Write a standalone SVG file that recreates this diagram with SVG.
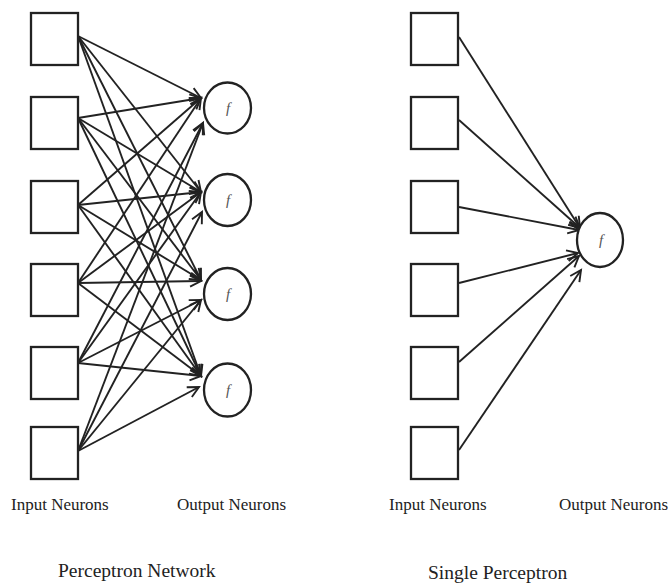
<svg xmlns="http://www.w3.org/2000/svg" width="671" height="583" viewBox="0 0 671 583">
<style>
.box{fill:#fff;stroke:#222;stroke-width:2.3}
.neu{fill:#fff;stroke:#222;stroke-width:2.3}
.f{font-family:"Liberation Serif",serif;font-style:italic;font-size:15px;fill:#555;text-anchor:middle}
.lbl{font-family:"Liberation Serif",serif;font-size:17px;fill:#222}
.ttl{font-family:"Liberation Serif",serif;font-size:19.5px;fill:#222}
#edges line{stroke:#222;stroke-width:1.9;marker-end:url(#ah)}
</style>
<defs>
<marker id="ah" markerUnits="userSpaceOnUse" markerWidth="15" markerHeight="14" refX="12" refY="6.5" orient="auto" viewBox="0 0 15 13">
<path d="M1,1 L12,6.5 L1,12" fill="none" stroke="#222" stroke-width="1.9"/>
</marker>
</defs>
<rect width="671" height="583" fill="#fff"/>
<g id="edges">
<line x1="78" y1="36" x2="201" y2="98"/>
<line x1="78" y1="118" x2="201" y2="98"/>
<line x1="78" y1="205" x2="201" y2="98"/>
<line x1="78" y1="283" x2="201" y2="98"/>
<line x1="78" y1="363" x2="203" y2="123"/>
<line x1="78" y1="451" x2="203" y2="123"/>
<line x1="78" y1="36" x2="201" y2="192"/>
<line x1="78" y1="118" x2="201" y2="192"/>
<line x1="78" y1="205" x2="201" y2="192"/>
<line x1="78" y1="283" x2="201" y2="192"/>
<line x1="78" y1="363" x2="201" y2="192"/>
<line x1="78" y1="451" x2="202" y2="212"/>
<line x1="78" y1="36" x2="201" y2="280"/>
<line x1="78" y1="118" x2="201" y2="280"/>
<line x1="78" y1="205" x2="201" y2="280"/>
<line x1="78" y1="283" x2="201" y2="281"/>
<line x1="78" y1="363" x2="201" y2="300"/>
<line x1="78" y1="451" x2="201" y2="300"/>
<line x1="78" y1="36" x2="201" y2="376"/>
<line x1="78" y1="118" x2="201" y2="376"/>
<line x1="78" y1="205" x2="201" y2="376"/>
<line x1="78" y1="283" x2="201" y2="376"/>
<line x1="78" y1="363" x2="201" y2="376"/>
<line x1="78" y1="451" x2="199" y2="387"/>
<line x1="459" y1="37" x2="580" y2="228"/>
<line x1="459" y1="120" x2="580" y2="228"/>
<line x1="459" y1="207" x2="579" y2="230"/>
<line x1="459" y1="283" x2="578" y2="253"/>
<line x1="459" y1="362" x2="579" y2="256"/>
<line x1="459" y1="450" x2="581" y2="270"/>
</g>
<g id="in1"><rect class="box" x="31" y="13" width="47" height="52"/></g>
<g id="in2"><rect class="box" x="31" y="97" width="47" height="52"/></g>
<g id="in3"><rect class="box" x="31" y="181" width="47" height="52"/></g>
<g id="in4"><rect class="box" x="31" y="264" width="47" height="52"/></g>
<g id="in5"><rect class="box" x="31" y="347" width="47" height="52"/></g>
<g id="in6"><rect class="box" x="31" y="427" width="47" height="52"/></g>
<g id="out1"><ellipse class="neu" cx="227.5" cy="108" rx="23.5" ry="25.5"/><text class="f" x="228" y="113">f</text></g>
<g id="out2"><ellipse class="neu" cx="227.5" cy="200" rx="23.5" ry="26"/><text class="f" x="228" y="205">f</text></g>
<g id="out3"><ellipse class="neu" cx="227.5" cy="294" rx="23.5" ry="26"/><text class="f" x="228" y="299">f</text></g>
<g id="out4"><ellipse class="neu" cx="227.5" cy="390" rx="23.5" ry="26.5"/><text class="f" x="228" y="395">f</text></g>
<g id="sin1"><rect class="box" x="411" y="13" width="47" height="52"/></g>
<g id="sin2"><rect class="box" x="411" y="97" width="47" height="52"/></g>
<g id="sin3"><rect class="box" x="411" y="181" width="47" height="52"/></g>
<g id="sin4"><rect class="box" x="411" y="264" width="47" height="52"/></g>
<g id="sin5"><rect class="box" x="411" y="347" width="47" height="52"/></g>
<g id="sin6"><rect class="box" x="411" y="427" width="47" height="52"/></g>
<g id="sout"><ellipse class="neu" cx="600" cy="240" rx="23" ry="27"/><text class="f" x="601" y="245">f</text></g>
<g id="labels">
<text class="lbl" x="11" y="510">Input Neurons</text>
<text class="lbl" x="177" y="510">Output Neurons</text>
<text class="ttl" x="58" y="577">Perceptron Network</text>
<text class="lbl" x="389" y="510">Input Neurons</text>
<text class="lbl" x="559" y="510">Output Neurons</text>
<text class="ttl" x="428" y="579">Single Perceptron</text>
</g>
</svg>
